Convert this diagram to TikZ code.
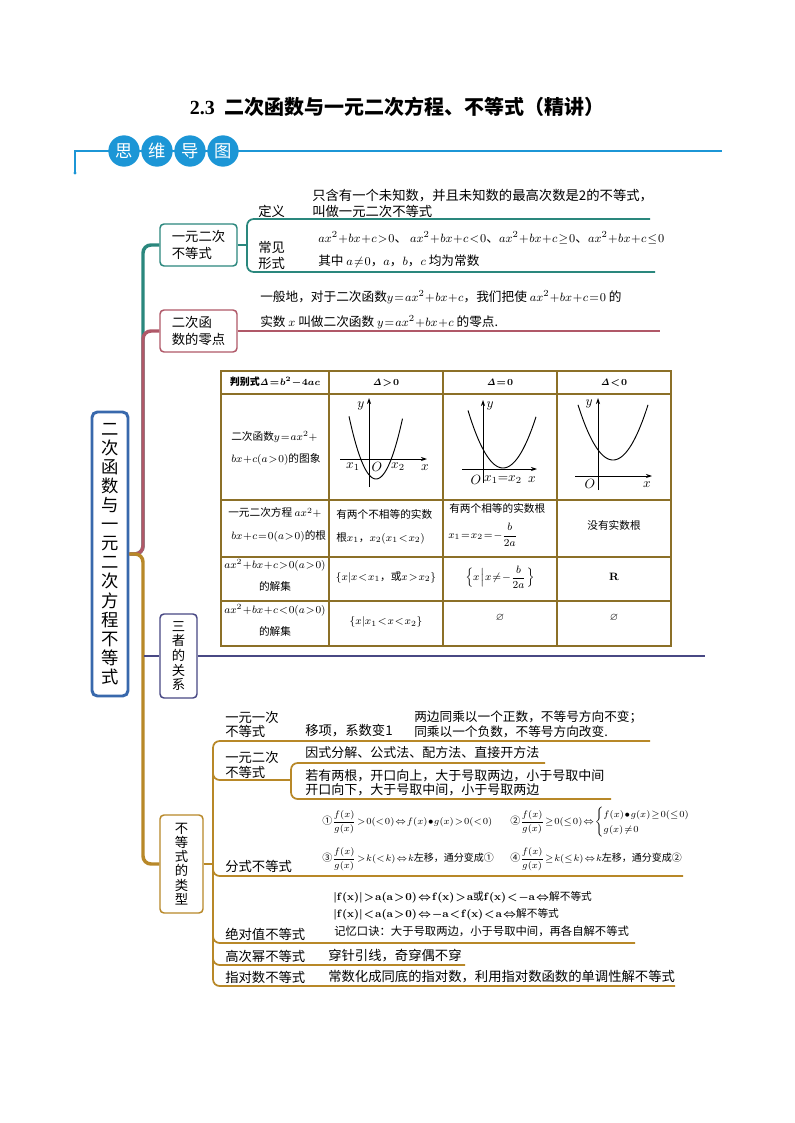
\documentclass[tikz,border=0pt]{standalone}
\usepackage{amsmath,amssymb}
\usepackage[no-math]{fontspec}
\setmainfont{Noto Sans CJK SC}
\newfontfamily\tnr{Liberation Serif}
\usetikzlibrary{arrows.meta}
\definecolor{hdrblue}{RGB}{28,150,214}
\definecolor{tealc}{RGB}{42,135,125}
\definecolor{rosec}{RGB}{176,88,104}
\definecolor{goldc}{RGB}{184,136,40}
\definecolor{navyc}{RGB}{72,72,132}
\definecolor{rootc}{RGB}{56,104,172}
\definecolor{tblc}{RGB}{140,112,40}
\begin{document}
\everymath{\medmuskip=0.8mu plus 0.5mu\thickmuskip=1.5mu plus 1mu}
\begin{tikzpicture}[x=0.75pt,y=-0.75pt,
  t/.style={inner sep=0pt,anchor=west,font=\fontsize{10}{12}\selectfont},
  tl/.style={inner sep=0pt,anchor=west,font=\fontsize{9.5}{12}\selectfont},
  tc/.style={inner sep=0pt,font=\fontsize{8}{10}\selectfont},
  tw/.style={inner sep=0pt,anchor=west,font=\fontsize{8}{10}\selectfont},
  fs/.style={inner sep=0pt,anchor=west,font=\fontsize{7.5}{9}\selectfont},
  hcirc/.style={circle,fill=hdrblue,minimum size=23.5pt,inner sep=0pt,text=white,font=\fontsize{13}{13}\selectfont},
  hbox/.style={draw,fill=white,rounded corners=3pt,line width=1.1pt,minimum width=57.75pt,minimum height=31.5pt,inner sep=0pt,align=left,font=\fontsize{10}{12.5}\selectfont},
  vbox/.style={draw,fill=white,rounded corners=3pt,line width=1.1pt,inner sep=0pt,align=center},
  trunk/.style={line width=2.6pt,rounded corners=6pt},
  br/.style={line width=1.3pt,rounded corners=5pt},
  ax/.style={line width=0.6pt,-{Stealth[length=4.5pt,width=3pt]}},
  cur/.style={line width=0.7pt},
  gl/.style={inner sep=0pt,font=\fontsize{10}{10}\selectfont},
]
\useasboundingbox (0,0) rectangle (794,1123);
\fill[white] (0,0) rectangle (794,1123);

% ---------- title and header ----------
\node[font=\bfseries\fontsize{15}{17}\selectfont] (title) at (397,107) {{\tnr\bfseries 2.3}\ \ 二次函数与一元二次方程、不等式（精讲）};
\coordinate (hl) at (75,151);
\coordinate (hr) at (722,151);
\coordinate (hd) at (75,173);
\draw[hdrblue,line width=0.9pt] (hd) -- (hl) -- (hr);
\fill[hdrblue] (hd) circle (1.6);
\node[hcirc] (c1) at (124,151) {思};
\node[hcirc] (c2) at (157,151) {维};
\node[hcirc] (c3) at (190,151) {导};
\node[hcirc] (c4) at (223,151) {图};

% ---------- boxes ----------
\node[vbox,draw=rootc,line width=2.2pt,rounded corners=4pt,minimum width=27pt,minimum height=213pt,font=\fontsize{13}{14.3}\selectfont] (root) at (110,554)
 {二\\次\\函\\数\\与\\一\\元\\二\\次\\方\\程\\不\\等\\式};
\node[hbox,draw=tealc] (n1) at (198.5,245) {一元二次\\不等式};
\node[hbox,draw=rosec] (n2) at (198.5,331) {二次函\\数的零点};
\node[vbox,draw=navyc,minimum width=27.75pt,minimum height=63pt,font=\fontsize{10}{11}\selectfont] (n3) at (178.5,656) {三\\者\\的\\关\\系};
\node[vbox,draw=goldc,minimum width=32.25pt,minimum height=73.5pt,font=\fontsize{10}{10.7}\selectfont] (n4) at (181.5,864) {不\\等\\式\\的\\类\\型};

% ---------- trunks ----------
\draw[trunk,tealc] (root.east) -- (143,554) -- (143,245) -- (n1.west);
\draw[trunk,rosec] (root.east) -- (143,554) -- (143,331) -- (n2.west);
\draw[trunk,goldc] (root.east) -- (143,554) -- (143,864) -- (n4.west);
\coordinate (nv) at (144,656);
\draw[br,navyc] (nv) -- (n3.west);

% ---------- branch 1 ----------
\coordinate (b1) at (247,245);
\coordinate (b1t) at (650,219);
\coordinate (b1b) at (655,272);
\draw[br,tealc] (n1.east) -- (b1);
\draw[br,tealc] (b1t) -- (247,219) -- (247,272) -- (b1b);
\node[t] (def) at (258,211) {定义};
\node[t] (defa) at (312,196) {只含有一个未知数，并且未知数的最高次数是2的不等式，};
\node[t] (defb) at (312,211) {叫做一元二次不等式};
\node[t] (cj1) at (258,247) {常见};
\node[t] (cj2) at (258,263) {形式};
\node[inner sep=0pt,anchor=west,font=\fontsize{9.5}{11}\selectfont] (forms) at (318,238)
 {$ax^2+bx+c>0$、\ $ax^2+bx+c<0$、$ax^2+bx+c\geq0$、$ax^2+bx+c\leq0$};
\node[tl] (cond) at (318,261) {其中 $a\neq0$，$a$，$b$，$c$ 均为常数};

% ---------- branch 2 ----------
\coordinate (b2) at (660,331);
\draw[br,rosec] (n2.east) -- (b2);
\node[tl] (z1) at (260,297) {一般地，对于二次函数$y=ax^2+bx+c$，我们把使 $ax^2+bx+c=0$ 的};
\node[tl] (z2) at (260,322) {实数 $x$ 叫做二次函数 $y=ax^2+bx+c$ 的零点.};

% ---------- branch 3 (table) ----------
\coordinate (b3) at (705,656);
\draw[br,navyc] (n3.east) -- (b3);
\fill[white] (221,371) rectangle (671,646);
\draw[tblc,line width=1.1pt] (221,371) rectangle (671,646);
\foreach \xx in {329,443,557} \draw[tblc,line width=1.1pt] (\xx,371) -- (\xx,646);
\foreach \yy in {394,500,557,601} \draw[tblc,line width=1.1pt] (221,\yy) -- (671,\yy);

\node[tc,font=\fontsize{7.5}{9}\selectfont\bfseries\boldmath] (h1) at (275,382.5) {判别式$\mathit{\Delta}=b^2-4ac$};
\node[tc,font=\fontsize{7.5}{9}\selectfont\boldmath] (h2) at (386,382.5) {$\mathit{\Delta}>0$};
\node[tc,font=\fontsize{7.5}{9}\selectfont\boldmath] (h3) at (500,382.5) {$\mathit{\Delta}=0$};
\node[tc,font=\fontsize{7.5}{9}\selectfont\boldmath] (h4) at (614,382.5) {$\mathit{\Delta}<0$};

\node[tw] (r2a) at (231,437) {二次函数$y=ax^2+$};
\node[tw] (r2b) at (231,459) {$bx+c(a>0)$的图象};

% graph 1
\draw[ax] (369,487) -- (369,398);
\draw[ax] (340,459) -- (427,459);
\draw[cur] plot[domain=-27:26.5,samples=50] ({376+\x},{479-0.086*\x*\x});
\node[gl] (g1y) at (361,406) {$y$};
\node[gl] (g1a) at (353,467) {$x_1$};
\node[gl] (g1o) at (377,467) {$O$};
\node[gl] (g1b) at (398,467) {$x_2$};
\node[gl] (g1x) at (425,468) {$x$};
% graph 2
\draw[ax] (483,483) -- (483,400);
\draw[ax] (462,469) -- (537,469);
\draw[cur] plot[domain=-35:33,samples=50] ({503+\x},{468-0.047*\x*\x});
\node[gl] (g2y) at (490,406) {$y$};
\node[gl] (g2o) at (476,480) {$O$};
\node[gl] (g2a) at (503,480) {$x_1{=}x_2$};
\node[gl] (g2x) at (532,480) {$x$};
% graph 3
\draw[ax] (598,490) -- (598,398);
\draw[ax] (575,476) -- (652,476);
\draw[cur] plot[domain=-35:35,samples=50] ({613+\x},{460-0.045*\x*\x});
\node[gl] (g3y) at (589,404) {$y$};
\node[gl] (g3o) at (590,484) {$O$};
\node[gl] (g3x) at (647,485) {$x$};

\node[tw] (r3a) at (228,513) {一元二次方程 $ax^2+$};
\node[tw] (r3b) at (231,536) {$bx+c=0(a>0)$的根};
\node[tw] (r3c) at (336,514) {有两个不相等的实数};
\node[tw] (r3d) at (336,538) {根$x_1$，$x_2(x_1<x_2)$};
\node[tw] (r3e) at (449,508) {有两个相等的实数根};
\node[tw] (r3f) at (448,535) {$x_1=x_2=-\dfrac{b}{2a}$};
\node[tc] (r3g) at (614,525) {没有实数根};

\node[tc] (r4a) at (275,565) {$ax^2+bx+c>0(a>0)$};
\node[tc] (r4b) at (275,586) {的解集};
\node[tc] (r4c) at (386,577) {$\{x|x<x_1$，或$x>x_2\}$};
\node[tc] (r4d) at (500,577) {$\Bigl\{x\Bigm|x\neq-\dfrac{b}{2a}\;\Bigr\}$};
\node[tc] (r4e) at (614,577) {$\mathbf{R}$};

\node[tc] (r5a) at (275,610) {$ax^2+bx+c<0(a>0)$};
\node[tc] (r5b) at (275,631) {的解集};
\node[tc] (r5c) at (386,622) {$\{x|x_1<x<x_2\}$};
\node[tc] (r5d) at (500,618) {$\varnothing$};
\node[tc] (r5e) at (614,618) {$\varnothing$};

% ---------- branch 4 ----------
\coordinate (k0) at (213,864);
\draw[br,goldc] (n4.east) -- (k0);
\draw[br,goldc] (650,741) -- (213,741) -- (213,986) -- (675,986);
\draw[br,goldc] (213,770) -- (213,780) -- (291,780);
\draw[br,goldc] (545,763) -- (291,763) -- (291,799) -- (611,799);
\draw[br,goldc] (213,866) -- (213,876) -- (683,876);
\draw[br,goldc] (213,933) -- (213,943) -- (635,943);
\draw[br,goldc] (213,955) -- (213,965) -- (465,965);

\node[t] (l1a) at (225,717) {一元一次};
\node[t] (l1b) at (225,731) {不等式};
\node[t] (l1c) at (305,731) {移项，系数变1};
\node[t,font=\fontsize{9.5}{11}\selectfont] (l1d) at (414,717) {两边同乘以一个正数，不等号方向不变；};
\node[t,font=\fontsize{9.5}{11}\selectfont] (l1e) at (414,732) {同乘以一个负数，不等号方向改变.};

\node[t] (l2a) at (225,757) {一元二次};
\node[t] (l2b) at (225,772) {不等式};
\node[t,font=\fontsize{9.75}{11}\selectfont] (l2c) at (305,753) {因式分解、公式法、配方法、直接开方法};
\node[t,font=\fontsize{9.75}{11}\selectfont] (l2d) at (305,776) {若有两根，开口向上，大于号取两边，小于号取中间};
\node[t,font=\fontsize{9.75}{11}\selectfont] (l2e) at (305,790) {开口向下，大于号取中间，小于号取两边};

\node[t] (l3a) at (225,866) {分式不等式};
\node[fs] (f1) at (322,822) {①$\dfrac{f(x)}{g(x)}>0(<0)\Leftrightarrow f(x)\bullet g(x)>0(<0)$};
\node[fs] (f2) at (510,822) {②$\dfrac{f(x)}{g(x)}\geq0(\leq0)\Leftrightarrow\begin{cases}f(x)\bullet g(x)\geq0(\leq0)\\ g(x)\neq0\end{cases}$};
\node[fs] (f3) at (322,859) {③$\dfrac{f(x)}{g(x)}>k(<k)\Leftrightarrow k$左移，通分变成①};
\node[fs] (f4) at (510,859) {④$\dfrac{f(x)}{g(x)}\geq k(\leq k)\Leftrightarrow k$左移，通分变成②};

\node[t] (l4a) at (225,934) {绝对值不等式};
\node[tw,font=\fontsize{8}{10}\selectfont\boldmath] (a1) at (333,897) {$|\mathbf{f(x)}|>\mathbf{a(a>0)}\Leftrightarrow\mathbf{f(x)>a}$或$\mathbf{f(x)<-a}\Leftrightarrow$解不等式};
\node[tw,font=\fontsize{8}{10}\selectfont\boldmath] (a2) at (333,914) {$|\mathbf{f(x)}|<\mathbf{a(a>0)}\Leftrightarrow\mathbf{-a<f(x)<a}\Leftrightarrow$解不等式};
\node[tw,font=\fontsize{8.5}{10}\selectfont] (a3) at (334,931) {记忆口诀：大于号取两边，小于号取中间，再各自解不等式};

\node[t] (l5a) at (225,956) {高次幂不等式};
\node[t] (l5b) at (328,956) {穿针引线，奇穿偶不穿};
\node[t] (l6a) at (225,977) {指对数不等式};
\node[t] (l6b) at (328,977) {常数化成同底的指对数，利用指对数函数的单调性解不等式};
\end{tikzpicture}
\end{document}
